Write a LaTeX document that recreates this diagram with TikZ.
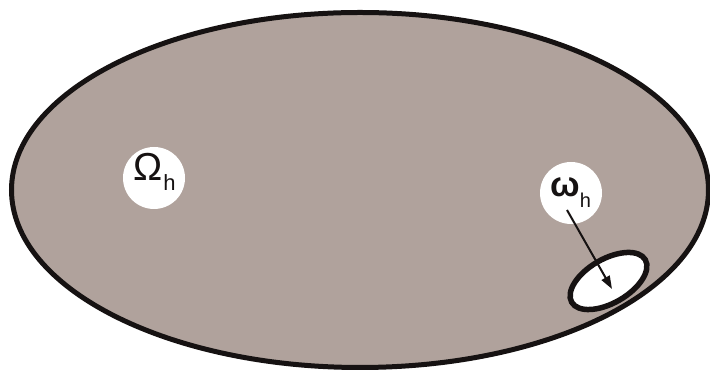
\documentclass[tikz,border=0pt]{standalone}
\usepackage{fontspec}
\setmainfont{Liberation Sans}
\usetikzlibrary{arrows.meta}
\definecolor{domain}{RGB}{176,162,156}
\definecolor{ink}{RGB}{22,18,18}
\tikzset{
  bigdomain/.style={draw=ink, fill=domain, line width=5pt},
  subdomain/.style={draw=ink, fill=white, line width=5.5pt},
  labelspot/.style={circle, fill=white, minimum size=62pt, inner sep=0pt, text=ink},
  pointer/.style={draw=ink, line width=2pt, -{Triangle[length=13pt, width=9pt]}}
}
\begin{document}
\begin{tikzpicture}[x=1pt, y=1pt]
  \useasboundingbox (0,0) rectangle (710,371);
  % big domain
  \path[bigdomain] (360,181) ellipse [x radius=348.5, y radius=177.5];
  % small subdomain
  \path[subdomain, rotate around={30:(608.5,90)}] (608.5,90) ellipse [x radius=42.5, y radius=22];
  % labels
  \node[labelspot] (Omega) at (154,193) {};
  \node[inner sep=0pt, anchor=base west, text=ink] (OmegaT) at (133,190) {\fontsize{39}{39}\selectfont Ω\hspace{1pt}\raisebox{-10pt}{\fontsize{22}{22}\selectfont h}};
  \node[labelspot] (omega) at (571,178) {};
  \node[inner sep=0pt, anchor=base west, text=ink] (omegaT) at (550,174) {\fontsize{35}{35}\selectfont\bfseries ω\raisebox{-11pt}{\fontsize{20}{20}\selectfont\mdseries h}};
  % arrow
  \coordinate (from) at (567,161);
  \coordinate (to) at (612,82);
  \draw[pointer] (from) -- (to);
\end{tikzpicture}
\end{document}
